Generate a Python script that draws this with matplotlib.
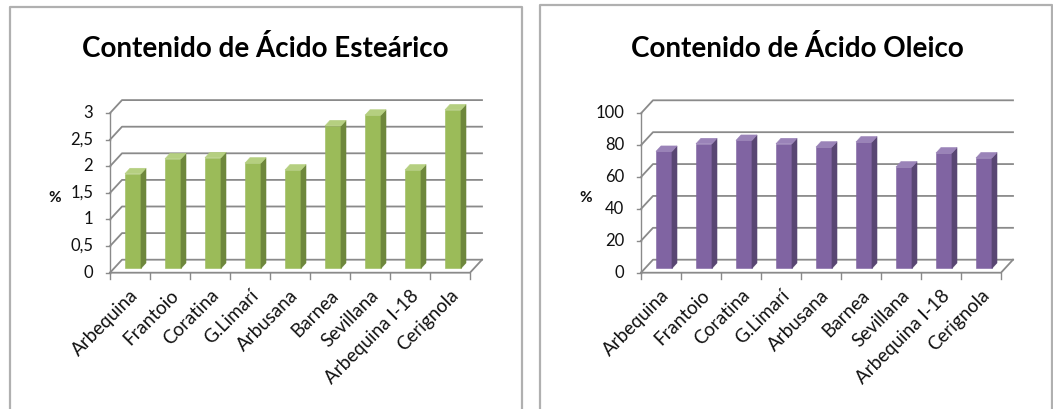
import matplotlib
matplotlib.use('Agg')
import matplotlib.pyplot as plt
from matplotlib.patches import Polygon
from matplotlib.lines import Line2D

plt.rcParams['font.family'] = ['Lato', 'DejaVu Sans']

# Cultivares y contenidos (%)
cultivares = ['Arbequina', 'Frantoio', 'Coratina', 'G.Limarí', 'Arbusana',
              'Barnea', 'Sevillana', 'Arbequina I-18', 'Cerignola']
estearico = [1.78, 2.06, 2.08, 1.98, 1.85, 2.68, 2.88, 1.85, 2.98]
oleico = [73.4, 78.2, 80.3, 78.2, 76.1, 79.3, 63.6, 72.4, 69.3]

est_ticks = [0, 0.5, 1, 1.5, 2, 2.5, 3]
est_labels = ['0', '0,5', '1', '1,5', '2', '2,5', '3']
ole_ticks = [0, 20, 40, 60, 80, 100]
ole_labels = ['0', '20', '40', '60', '80', '100']

W, H = 1053, 409
fig = plt.figure(figsize=(W / 100, H / 100), dpi=100)

GRID = '#8a8a8a'
BORDER = '#b0b0b0'
TXT = '#111111'


def panel_axes(px0, px1, py0, py1, c0, base, ppu):
    # axes in pixel box; x in category units (40 px each), y in value units
    ax = fig.add_axes([px0 / W, 1 - py1 / H, (px1 - px0) / W, (py1 - py0) / H])
    ax.set_xlim((px0 - c0) / 40, (px1 - c0) / 40)
    ax.set_ylim((base - py1) / ppu, (base - py0) / ppu)
    ax.axis('off')
    return ax


def draw_bars3d(ax, cats, vals, ticks, labels, ppu, front, side, top):
    n = len(cats)
    x0, x1 = -0.5, n - 0.5
    ddx, ddy = 0.3, 13 / ppu      # depth of the floor
    ymax = ticks[-1]

    # back wall gridlines with the side-wall diagonal
    for t in ticks:
        ax.plot([x0, x0 + ddx, x1 + ddx], [t, t + ddy, t + ddy],
                color=GRID, lw=1.3, zorder=1)
        ax.plot([x0 - 0.1, x0], [t, t], color=GRID, lw=1.0, zorder=1)
    # floor
    ax.plot([x0, x1, x1 + ddx], [0, 0, ddy], color=GRID, lw=1.3, zorder=1)
    ax.plot([x0, x0], [0, ymax], color=GRID, lw=1.0, zorder=1)
    for k in range(n + 1):
        ax.plot([x0 + k, x0 + k], [0, -6 / ppu], color=GRID, lw=1.0, zorder=1)

    # bars
    d0, d1 = 0.33, 0.75
    w = 0.4
    sx, sy = (d1 - d0) * ddx, (d1 - d0) * ddy
    for i, v in enumerate(vals):
        xl = i - 0.225 + d0 * ddx
        yb = d0 * ddy
        xr = xl + w
        ax.add_patch(Polygon([(xl, yb), (xr, yb), (xr, yb + v), (xl, yb + v)],
                             closed=True, fc=front, ec=front, lw=0.4, zorder=3))
        ax.add_patch(Polygon([(xr, yb), (xr + sx, yb + sy), (xr + sx, yb + v + sy), (xr, yb + v)],
                             closed=True, fc=side, ec=side, lw=0.4, zorder=3))
        ax.add_patch(Polygon([(xl, yb + v), (xr, yb + v), (xr + sx, yb + v + sy), (xl + sx, yb + v + sy)],
                             closed=True, fc=top, ec=top, lw=0.4, zorder=3))

    # value axis labels
    for t, lab in zip(ticks, labels):
        ax.text(x0 - 0.42, t, lab, ha='right', va='center', fontsize=12, color=TXT)
    ax.text(x0 - 1.38, ymax * 0.47, '%', ha='center', va='center', fontsize=11,
            fontweight='bold', color=TXT)

    # category labels
    for i, c in enumerate(cats):
        ax.text(i + 0.14, -20 / ppu, c, rotation=45, rotation_mode='anchor',
                ha='right', va='center', fontsize=13.5, color=TXT)


# left panel: estearico
axL = panel_axes(20, 515, 80, 405, c0=130, base=272.7, ppu=53.2)
draw_bars3d(axL, cultivares, estearico, est_ticks, est_labels, 53.2,
            '#9bbb59', '#6e873c', '#b5cf80')

# right panel: oleico
axR = panel_axes(550, 1045, 80, 405, c0=661, base=272.7, ppu=1.594)
draw_bars3d(axR, cultivares, oleico, ole_ticks, ole_labels, 1.594,
            '#8064a2', '#594673', '#9a83b8')

# titles
fig.text(265 / W, 1 - 57 / H, 'Contenido de Ácido Esteárico', ha='center', va='baseline',
         fontsize=20, fontweight='bold', color='black')
fig.text(797 / W, 1 - 57 / H, 'Contenido de Ácido Oleico', ha='center', va='baseline',
         fontsize=20, fontweight='bold', color='black')

# chart area borders (top and sides)
for (l, r, t) in [(10, 522, 7), (540, 1052, 5)]:
    xs = [l / W, l / W, r / W, r / W]
    ys = [0, 1 - t / H, 1 - t / H, 0]
    fig.add_artist(Line2D(xs, ys, color=BORDER, lw=1.6))

fig.savefig('out.png', dpi=100)
